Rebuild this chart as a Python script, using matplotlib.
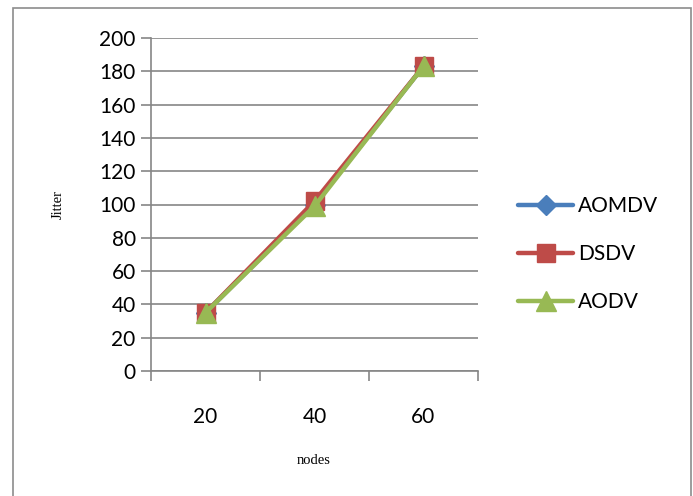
import matplotlib.pyplot as plt
from matplotlib.patches import Rectangle

nodes = ['20', '40', '60']
aomdv = [35, 100, 183]
dsdv = [35, 102, 183]
aodv = [35, 99, 183]

W, H = 693, 496
fig = plt.figure(figsize=(W / 100, H / 100), dpi=100)

# outer frame around the whole chart
fig.patches.append(Rectangle((13 / W, -0.01), 678 / W, 1 - 8 / H + 0.01,
                             transform=fig.transFigure, fill=False,
                             edgecolor='#8c8c8c', linewidth=1.2))

ax = fig.add_axes([151 / W, 1 - 371 / H, 327 / W, 333 / H])
x = list(range(len(nodes)))

style = dict(linewidth=3.2, solid_capstyle='round', solid_joinstyle='round')
ax.plot(x, aomdv, color='#4A7EBB', marker='D', markersize=10, label='AOMDV', **style)
ax.plot(x, dsdv, color='#BE4B48', marker='s', markersize=13, label='DSDV', **style)
ax.plot(x, aodv, color='#98B954', marker='^', markersize=14, label='AODV', **style)

ax.set_xlim(-0.5, 2.5)
ax.set_ylim(0, 200)
ax.set_yticks(range(0, 201, 20))
ax.set_xticks([-0.5, 0.5, 1.5, 2.5])
ax.set_xticklabels([])
ax.set_xticks(x, minor=True)
ax.set_xticklabels(nodes, minor=True, fontsize=15, family='Lato')
ax.tick_params(axis='x', which='minor', length=0, pad=26)
ax.tick_params(axis='x', which='major', length=7, direction='out', color='#868686', width=1.2)
ax.tick_params(axis='y', length=7, color='#868686', width=1.2, labelsize=15, pad=4)
for lab in ax.get_yticklabels():
    lab.set_family('Lato')

ax.grid(axis='y', color='#868686', linewidth=1.2)
ax.set_axisbelow(True)
for side in ['top', 'right']:
    ax.spines[side].set_visible(False)
for side in ['left', 'bottom']:
    ax.spines[side].set_color('#868686')
    ax.spines[side].set_linewidth(1.2)

fig.text(58 / W, 1 - 204 / H, 'Jitter', rotation=90, ha='center', va='center',
         family='Liberation Serif', fontsize=10.5)
fig.text(314 / W, 1 - 460 / H, 'nodes', ha='center', va='center',
         family='Liberation Serif', fontsize=10.5)

fig.legend(loc='center left', bbox_to_anchor=(518 / W, 1 - 254 / H), frameon=False,
           prop={'family': 'Lato', 'size': 15}, handlelength=2.65,
           handletextpad=0.25, labelspacing=1.35, borderpad=0, borderaxespad=0)

fig.savefig('out.png', dpi=100)
